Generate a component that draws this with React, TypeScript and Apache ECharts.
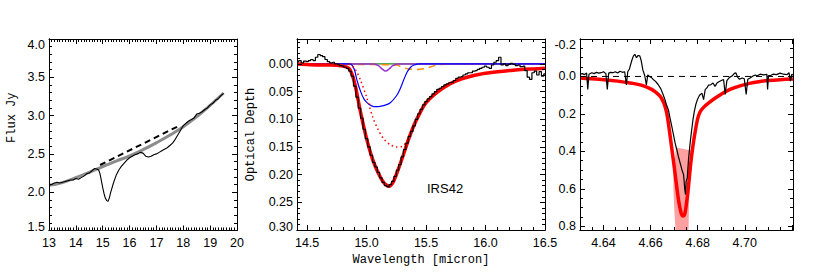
import React, { useEffect, useRef } from "react";
import * as echarts from "echarts";

type P = [number, number];

// ---------- Panel 1: flux spectrum (micron, Jy) ----------
const fluxObs: P[] = [
  [13.0, 2.09], [13.1, 2.1], [13.2, 2.12], [13.3, 2.13], [13.4, 2.12], [13.5, 2.13], [13.6, 2.14],
  [13.7, 2.15], [13.8, 2.16], [13.9, 2.16], [14.0, 2.18], [14.1, 2.17], [14.2, 2.19], [14.3, 2.21],
  [14.4, 2.24], [14.5, 2.25], [14.6, 2.28], [14.7, 2.31], [14.8, 2.3], [14.85, 2.29], [14.9, 2.24],
  [14.95, 2.15], [15.0, 2.06], [15.05, 1.98], [15.1, 1.92], [15.15, 1.89], [15.2, 1.88], [15.25, 1.93],
  [15.3, 2.0], [15.4, 2.12], [15.5, 2.22], [15.6, 2.29], [15.7, 2.34], [15.8, 2.38], [15.9, 2.42],
  [16.0, 2.45], [16.1, 2.47], [16.2, 2.49], [16.3, 2.5], [16.4, 2.52], [16.5, 2.51], [16.6, 2.47],
  [16.7, 2.46], [16.8, 2.47], [16.9, 2.49], [17.0, 2.5], [17.1, 2.52], [17.2, 2.54], [17.3, 2.56],
  [17.4, 2.58], [17.5, 2.61], [17.6, 2.64], [17.7, 2.69], [17.8, 2.75], [17.9, 2.81], [18.0, 2.87],
  [18.1, 2.9], [18.2, 2.93], [18.3, 2.95], [18.4, 2.97], [18.5, 3.02], [18.6, 3.03], [18.7, 3.05],
  [18.8, 3.08], [18.9, 3.1], [19.0, 3.14], [19.1, 3.16], [19.2, 3.2], [19.3, 3.22], [19.4, 3.26],
  [19.5, 3.29],
];
const fluxContinuum: P[] = [
  [13.0, 2.09], [13.5, 2.125], [14.0, 2.19], [14.5, 2.26], [15.0, 2.335], [15.5, 2.405],
  [16.0, 2.475], [16.5, 2.555], [17.0, 2.645], [17.5, 2.745], [18.0, 2.855], [18.5, 2.985],
  [19.0, 3.135], [19.5, 3.295],
];
const fluxLocalContinuum: P[] = [[14.9, 2.355], [17.9, 2.877]];

// ---------- Panel 2: 15 micron optical depth (IRS42) ----------
const tauObs: P[] = [
  [14.42, -0.004], [14.44, -0.006], [14.46, -0.002], [14.48, -0.005], [14.5, -0.004], [14.52, -0.006],
  [14.54, -0.008], [14.56, -0.006], [14.58, -0.012], [14.6, -0.017], [14.62, -0.015], [14.64, -0.013],
  [14.66, -0.008], [14.68, -0.004], [14.7, -0.002], [14.72, -0.003], [14.74, 0.0], [14.76, 0.001],
  [14.78, 0.003], [14.8, 0.004], [14.82, 0.006], [14.84, 0.008], [14.86, 0.013], [14.88, 0.022],
  [14.9, 0.04], [14.92, 0.06], [14.94, 0.08], [14.96, 0.098], [14.98, 0.118], [15.0, 0.135],
  [15.02, 0.15], [15.04, 0.165], [15.06, 0.178], [15.08, 0.186], [15.1, 0.196], [15.12, 0.206],
  [15.14, 0.214], [15.16, 0.22], [15.18, 0.222], [15.2, 0.218], [15.22, 0.212], [15.24, 0.203],
  [15.26, 0.192], [15.28, 0.182], [15.3, 0.168], [15.32, 0.155], [15.34, 0.143], [15.36, 0.131],
  [15.38, 0.122], [15.4, 0.112], [15.42, 0.1], [15.44, 0.09], [15.46, 0.082], [15.48, 0.074],
  [15.5, 0.068], [15.52, 0.063], [15.54, 0.059], [15.56, 0.054], [15.58, 0.05], [15.6, 0.046],
  [15.62, 0.044], [15.64, 0.041], [15.66, 0.038], [15.68, 0.036], [15.7, 0.034], [15.72, 0.033],
  [15.74, 0.03], [15.76, 0.026], [15.78, 0.024], [15.8, 0.023], [15.82, 0.02], [15.84, 0.018],
  [15.86, 0.016], [15.88, 0.016], [15.9, 0.013], [15.92, 0.012], [15.94, 0.01], [15.96, 0.008],
  [15.98, 0.006], [16.0, 0.004], [16.02, 0.006], [16.04, 0.008], [16.06, 0.002], [16.08, -0.003],
  [16.1, -0.006], [16.12, -0.012], [16.14, 0.002], [16.16, 0.0], [16.18, 0.003], [16.2, 0.001],
  [16.22, -0.001], [16.24, 0.001], [16.26, 0.003], [16.28, 0.002], [16.3, 0.005], [16.32, 0.004],
  [16.34, 0.012], [16.36, 0.024], [16.38, 0.028], [16.4, 0.016], [16.42, 0.013], [16.44, 0.02],
  [16.46, 0.014], [16.48, 0.022], [16.5, 0.018],
];
const tauFit: P[] = [
  [14.42, 0.0], [14.5, 0.001], [14.6, 0.002], [14.7, 0.002], [14.8, 0.004], [14.85, 0.008],
  [14.88, 0.02], [14.9, 0.035], [14.92, 0.055], [14.95, 0.088], [15.0, 0.135], [15.05, 0.172],
  [15.1, 0.198], [15.15, 0.216], [15.19, 0.221], [15.22, 0.215], [15.25, 0.2], [15.3, 0.17],
  [15.35, 0.138], [15.4, 0.11], [15.45, 0.088], [15.5, 0.07], [15.6, 0.05], [15.7, 0.036],
  [15.8, 0.027], [15.9, 0.021], [16.0, 0.017], [16.1, 0.014], [16.2, 0.012], [16.3, 0.01],
  [16.4, 0.009], [16.5, 0.008],
];
const tauPureCO2: P[] = [
  [14.85, 0.0], [14.9, 0.008], [14.95, 0.03], [15.0, 0.06], [15.05, 0.095], [15.1, 0.12],
  [15.15, 0.137], [15.2, 0.146], [15.25, 0.15], [15.3, 0.149], [15.35, 0.135], [15.4, 0.112],
  [15.45, 0.09], [15.5, 0.072], [15.6, 0.05], [15.7, 0.036], [15.8, 0.027], [15.9, 0.021],
  [16.0, 0.017], [16.2, 0.012], [16.5, 0.008],
];
const tauPolarCO2: P[] = [
  [14.42, 0.0], [14.86, 0.0], [14.88, 0.003], [14.9, 0.012], [14.92, 0.03], [14.95, 0.05],
  [14.98, 0.064], [15.02, 0.073], [15.06, 0.077], [15.1, 0.077], [15.15, 0.075], [15.2, 0.07],
  [15.25, 0.058], [15.28, 0.046], [15.31, 0.03], [15.34, 0.015], [15.37, 0.006], [15.4, 0.002],
  [15.45, 0.0], [16.5, 0.0],
];
const tauCOmix: P[] = [
  [14.42, 0.0], [15.06, 0.0], [15.1, 0.003], [15.13, 0.009], [15.16, 0.013], [15.19, 0.009],
  [15.22, 0.003], [15.26, 0.0], [16.5, 0.0],
];
const tauMethanol: P[] = [
  [14.42, 0.002], [14.8, 0.001], [15.25, 0.002], [15.3, 0.006], [15.35, 0.009], [15.42, 0.01],
  [15.5, 0.008], [15.56, 0.004], [15.62, 0.001], [16.5, 0.0],
];
const tauAnnealed: P[] = [[14.42, 0.0], [16.5, 0.0]];

// ---------- Panel 3: 4.67 micron CO band ----------
const coObs: P[] = [
  [4.63, -0.012], [4.631, -0.015], [4.632, -0.01], [4.6328, -0.018], [4.6333, 0.069], [4.6338, -0.012],
  [4.635, -0.02], [4.636, -0.015], [4.637, -0.022], [4.638, -0.018], [4.639, -0.02], [4.64, -0.025],
  [4.641, -0.015], [4.6416, 0.069], [4.6422, -0.018], [4.643, -0.022], [4.644, -0.02], [4.645, -0.025],
  [4.646, -0.018], [4.647, -0.028], [4.648, -0.022], [4.649, -0.025], [4.6497, 0.045], [4.6503, -0.025],
  [4.651, -0.04], [4.652, -0.085], [4.6527, -0.11], [4.6533, -0.118], [4.654, -0.1], [4.6547, -0.112],
  [4.6554, -0.11], [4.656, -0.085], [4.6567, -0.035], [4.6575, -0.005], [4.6582, 0.045], [4.6588, -0.008],
  [4.6595, 0.0], [4.6603, 0.005], [4.6611, 0.016], [4.662, 0.025], [4.6632, 0.043], [4.6643, 0.065],
  [4.6653, 0.096], [4.666, 0.12], [4.6667, 0.15], [4.6676, 0.18], [4.6683, 0.225], [4.669, 0.267],
  [4.6697, 0.31], [4.6704, 0.355], [4.6711, 0.39], [4.6718, 0.427], [4.6725, 0.46], [4.6733, 0.498],
  [4.674, 0.524], [4.6745, 0.6], [4.6748, 0.63], [4.6751, 0.56], [4.6756, 0.54], [4.6761, 0.444],
  [4.6768, 0.355], [4.6774, 0.29], [4.678, 0.231], [4.6786, 0.185], [4.6792, 0.15], [4.68, 0.12],
  [4.6808, 0.1], [4.6818, 0.089], [4.6825, 0.124], [4.6832, 0.07], [4.684, 0.06], [4.6846, 0.046],
  [4.6855, 0.045], [4.6865, 0.035], [4.6874, 0.053], [4.6882, 0.035], [4.689, 0.028], [4.69, 0.022],
  [4.691, 0.016], [4.6917, 0.096], [4.6924, 0.022], [4.6935, 0.005], [4.6946, -0.002], [4.6955, -0.015],
  [4.6962, -0.02], [4.697, 0.005], [4.6978, 0.015], [4.6989, 0.008], [4.6998, 0.012], [4.7006, 0.096],
  [4.7013, 0.015], [4.7023, 0.008], [4.7035, -0.002], [4.7045, -0.008], [4.7052, -0.002], [4.7065, -0.012],
  [4.708, -0.008], [4.7094, -0.011], [4.7097, 0.069], [4.7101, -0.005], [4.711, -0.005], [4.712, -0.012],
  [4.7135, -0.01], [4.715, -0.018], [4.7165, -0.012], [4.718, -0.01], [4.7188, -0.02], [4.7194, 0.025],
  [4.72, -0.012], [4.7205, -0.008],
];
const coFit: P[] = [
  [4.63, 0.008], [4.638, 0.015], [4.646, 0.025], [4.652, 0.036], [4.656, 0.046], [4.66, 0.066],
  [4.662, 0.082], [4.664, 0.105], [4.665, 0.125], [4.666, 0.155], [4.667, 0.205], [4.668, 0.29],
  [4.669, 0.385], [4.67, 0.48], [4.671, 0.58], [4.672, 0.67], [4.673, 0.73], [4.6738, 0.745],
  [4.6745, 0.735], [4.675, 0.7], [4.676, 0.6], [4.677, 0.47], [4.678, 0.37], [4.679, 0.29],
  [4.68, 0.225], [4.681, 0.19], [4.6825, 0.165], [4.685, 0.138], [4.6875, 0.115], [4.69, 0.095],
  [4.694, 0.068], [4.698, 0.05], [4.702, 0.037], [4.706, 0.028], [4.71, 0.022], [4.715, 0.017],
  [4.7205, 0.013],
];
// outline of the range of acceptable fits
const coFitRange: P[] = [
  [4.6697, 0.533], [4.6702, 0.45], [4.6708, 0.38], [4.672, 0.382], [4.6735, 0.386], [4.675, 0.39],
  [4.6765, 0.393], [4.6775, 0.396], [4.6768, 0.5], [4.6764, 0.65], [4.6761, 0.82], [4.6706, 0.82],
  [4.6701, 0.72], [4.6697, 0.6],
];
const coZero: P[] = [[4.63, 0.0], [4.7205, 0.0]];

// ---------- axis ranges [min, max] and minor tick divisions ----------
const p1X = [13, 20];
const p1Y = [1.5, 4.0];
const p2X = [14.415, 16.5];
const p2Y = [-0.045, 0.3];
const p3X = [4.63, 4.7205];
const p3Y = [-0.2, 0.82];

const LABEL_FONT = "'Liberation Sans', Arial, sans-serif";
const TITLE_FONT = "'Liberation Mono', 'DejaVu Sans Mono', monospace";
const FS = 12.5;

const GRIDS = [
  { left: 49, top: 39, width: 188, height: 191.5 },
  { left: 297, top: 39, width: 248, height: 191 },
  { left: 580, top: 39, width: 213, height: 191 },
];

const fmt = (step: number, digits: number, hideAbove = Infinity, shift: Record<string, string> = {}) => (v: number) => {
  if (!(v < hideAbove) || Math.abs(v / step - Math.round(v / step)) > 1e-6) return "";
  const s = v.toFixed(digits);
  return shift[s] ? `{${shift[s]}|${s}}` : s;
};
const rich = {
  dn: { padding: [12, 0, 0, 0], fontFamily: LABEL_FONT, fontSize: FS, color: "#000" },
  up: { padding: [0, 0, 7, 0], fontFamily: LABEL_FONT, fontSize: FS, color: "#000" },
};
const nameStyle = { fontFamily: TITLE_FONT, fontSize: 12, color: "#000" };

// main chart axes: lines + labels (ticks drawn by the overlay charts)
function labelAxis(dim: "x" | "y", grid: number, range: number[], formatter: any, inverse = false, name?: any) {
  const a: any = {
    type: "value",
    gridIndex: grid,
    min: range[0],
    max: range[1],
    inverse,
    position: dim === "x" ? "bottom" : "left",
    axisLine: { show: true, onZero: false, lineStyle: { color: "#000", width: 1 } },
    axisTick: { show: false },
    splitLine: { show: false },
    axisLabel: { show: true, margin: dim === "x" ? 6 : 4, color: "#000", fontFamily: LABEL_FONT, fontSize: FS, formatter, rich },
  };
  return name ? { ...a, ...name } : a;
}

// overlay axes: box with inward major/minor ticks
function tickAxis(position: string, range: number[], minor: number, inverse = false) {
  return {
    type: "value",
    gridIndex: 0,
    min: range[0],
    max: range[1],
    inverse,
    position,
    axisLine: { show: true, onZero: false, lineStyle: { color: "#000", width: 1 } },
    axisTick: { show: true, inside: true, length: 5, lineStyle: { color: "#000", width: 1 } },
    minorTick: { show: true, splitNumber: minor, length: 3, lineStyle: { color: "#000", width: 1 } },
    splitLine: { show: false },
    minorSplitLine: { show: false },
    axisLabel: { show: false },
  };
}

const line = (data: any[], xi: number, color: string, width: number, extra: any = {}) => ({
  type: "line",
  data,
  xAxisIndex: xi,
  yAxisIndex: xi,
  showSymbol: false,
  symbol: "none",
  lineStyle: { color, width, ...(extra.lineStyle || {}) },
  ...Object.fromEntries(Object.entries(extra).filter(([k]) => k !== "lineStyle")),
});

function TickBox(props: { grid: any; xr: number[]; yr: number[]; xMinor: number; yMinor: number; inverse: boolean }) {
  const ref = useRef<HTMLDivElement>(null);
  useEffect(() => {
    if (!ref.current) return;
    const chart = echarts.init(ref.current, undefined, { renderer: "svg" });
    chart.setOption({
      animation: false,
      backgroundColor: "transparent",
      grid: [props.grid],
      xAxis: [tickAxis("bottom", props.xr, props.xMinor), tickAxis("top", props.xr, props.xMinor)],
      yAxis: [tickAxis("left", props.yr, props.yMinor, props.inverse), tickAxis("right", props.yr, props.yMinor, props.inverse)],
      series: [{ type: "line", data: [[props.xr[0], props.yr[0]]], showSymbol: false, lineStyle: { opacity: 0 }, silent: true }],
    });
    return () => chart.dispose();
  }, []);
  return <div ref={ref} style={{ position: "absolute", left: 0, top: 0, width: 817, height: 272, pointerEvents: "none" }} />;
}

export default function App() {
  const ref = useRef<HTMLDivElement>(null);
  useEffect(() => {
    if (!ref.current) return;
    const chart = echarts.init(ref.current, undefined, { renderer: "svg" });
    const option: any = {
      animation: false,
      backgroundColor: "#fff",
      title: {
        text: "IRS42",
        left: 427,
        top: 182,
        padding: 0,
        textStyle: { fontFamily: LABEL_FONT, fontSize: 13, fontWeight: "normal", color: "#000" },
      },
      grid: GRIDS,
      xAxis: [
        labelAxis("x", 0, p1X, fmt(1, 0)),
        labelAxis("x", 1, p2X, fmt(0.5, 1), false, {
          name: "Wavelength [micron]", nameLocation: "middle", nameGap: 24, nameTextStyle: nameStyle,
        }),
        labelAxis("x", 2, p3X, fmt(0.02, 2, 4.715)),
      ],
      yAxis: [
        labelAxis("y", 0, p1Y, fmt(0.5, 1, Infinity, { "4.0": "dn", "1.5": "up" }), false, {
          name: "Flux Jy", nameLocation: "middle", nameRotate: 90, nameGap: 31,
          nameTextStyle: { ...nameStyle, padding: [0, 0, 0, 34] },
        }),
        labelAxis("y", 1, p2Y, fmt(0.05, 2, Infinity, { "0.30": "up" }), true, {
          name: "Optical Depth", nameLocation: "middle", nameRotate: 90, nameGap: 40, nameTextStyle: nameStyle,
        }),
        labelAxis("y", 2, p3Y, fmt(0.2, 1, Infinity, { "-0.2": "dn" }), true),
      ],
      series: [
        // panel 1
        line(fluxContinuum, 0, "#8c8c8c", 3, { smooth: true }),
        line(fluxLocalContinuum, 0, "#000", 2, { lineStyle: { type: [6, 4] } }),
        line(fluxObs, 0, "#000", 1.1),
        // panel 2
        line(tauAnnealed, 1, "#228b22", 1.2),
        line(tauMethanol, 1, "#ff8c00", 1.5, { smooth: 0.3, lineStyle: { type: [7, 5] } }),
        line(tauCOmix, 1, "#9932cc", 1.5, { smooth: 0.3 }),
        line(tauPolarCO2, 1, "#0000ff", 1.2, { smooth: 0.3 }),
        line(tauPureCO2, 1, "#ff0000", 1.5, { smooth: 0.3, lineStyle: { type: [1.5, 3] } }),
        line(tauFit, 1, "#ff0000", 3.5, { smooth: 0.3 }),
        line(tauObs, 1, "#000", 1.2, { step: "middle" }),
        // panel 3
        {
          type: "custom",
          xAxisIndex: 2,
          yAxisIndex: 2,
          clip: true,
          z: 1,
          data: coFitRange,
          renderItem: (params: any, api: any) => {
            if (params.dataIndex !== 0) return null;
            const pts = coFitRange.map((p) => api.coord(p));
            return { type: "polygon", shape: { points: pts }, style: { fill: "#ffa0a0" } };
          },
        },
        line(coZero, 2, "#000", 1, { lineStyle: { type: [6, 5] } }),
        line(coFit, 2, "#ff0000", 3.5, { smooth: 0.3 }),
        line(coObs, 2, "#000", 1.2),
      ],
    };
    chart.setOption(option);
    return () => chart.dispose();
  }, []);
  return (
    <div style={{ position: "fixed", left: 0, top: 0, width: 817, height: 272 }}>
      <div ref={ref} style={{ position: "absolute", left: 0, top: 0, width: 817, height: 272 }} />
      <TickBox grid={GRIDS[0]} xr={p1X} yr={p1Y} xMinor={10} yMinor={5} inverse={false} />
      <TickBox grid={GRIDS[1]} xr={p2X} yr={p2Y} xMinor={5} yMinor={5} inverse={true} />
      <TickBox grid={GRIDS[2]} xr={p3X} yr={p3Y} xMinor={4} yMinor={4} inverse={true} />
    </div>
  );
}
